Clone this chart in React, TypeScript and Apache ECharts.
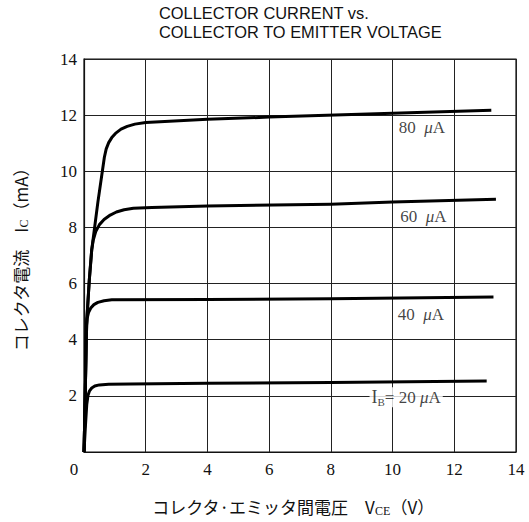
import React, { useEffect, useRef } from "react";
import * as echarts from "echarts";

const ib20: [number, number][] = [[0, 0], [0.05, 1.0], [0.09, 1.7], [0.13, 2.02], [0.18, 2.18], [0.25, 2.28], [0.35, 2.35], [0.5, 2.39], [0.8, 2.41], [1.5, 2.42], [4, 2.45], [8, 2.48], [13.05, 2.53]];
const ib40: [number, number][] = [[0, 0], [0.04, 2.0], [0.07, 4.0], [0.1, 4.75], [0.15, 4.98], [0.22, 5.13], [0.32, 5.25], [0.45, 5.33], [0.65, 5.39], [0.9, 5.42], [4, 5.43], [8, 5.46], [13.27, 5.52]];
const ib60: [number, number][] = [[0, 0], [0.04, 2.0], [0.08, 4.5], [0.17, 6.1], [0.25, 7.2], [0.3, 7.55], [0.38, 7.85], [0.5, 8.1], [0.65, 8.28], [0.85, 8.44], [1.05, 8.55], [1.3, 8.63], [1.6, 8.68], [2.2, 8.71], [4, 8.76], [8, 8.83], [10, 8.91], [13.35, 9.0]];
const ib80: [number, number][] = [[0, 0], [0.04, 2.0], [0.08, 4.5], [0.17, 6.1], [0.25, 7.2], [0.45, 8.9], [0.66, 10.5], [0.72, 10.8], [0.8, 11.02], [0.9, 11.2], [1.02, 11.35], [1.2, 11.5], [1.4, 11.6], [1.65, 11.68], [2, 11.74], [4, 11.85], [6, 11.93], [10, 12.07], [13.2, 12.17]];

const curves = [ib20, ib40, ib60, ib80];

const labelPos: [number, number][] = [[10.44, 1.95], [10.92, 4.9], [11.0, 8.4], [10.95, 11.56]];
const labelText = ["{i|I}{sub|B}{t|= 20 }{mu|μ}{t|A}", "{t|40  }{mu|μ}{t|A}", "{t|60  }{mu|μ}{t|A}", "{t|80  }{mu|μ}{t|A}"];

const xTicks = [0, 2, 4, 6, 8, 10, 12, 14];
const yTicks = [0, 2, 4, 6, 8, 10, 12, 14];

const serif = "'Liberation Serif', 'DejaVu Serif', serif";

export default function App() {
  const ref = useRef<HTMLDivElement>(null);
  useEffect(() => {
    if (!ref.current) return;
    const chart = echarts.init(ref.current, null, { renderer: "svg" });
    const richLabel = {
      t: { fontFamily: serif, fontSize: 17, color: "#111" },
      i: { fontFamily: serif, fontSize: 18, color: "#111" },
      sub: { fontFamily: serif, fontSize: 11, color: "#111", verticalAlign: "bottom", padding: [9, 0, 0, 0] },
      mu: { fontFamily: serif, fontSize: 17, fontStyle: "italic", color: "#111" },
    };
    chart.setOption({
      animation: false,
      backgroundColor: "#fff",
      title: {
        text: "COLLECTOR CURRENT vs.\nCOLLECTOR TO EMITTER VOLTAGE",
        left: 159,
        top: 3,
        padding: 0,
        textStyle: { fontFamily: "'Liberation Sans', sans-serif", fontSize: 16.4, fontWeight: "normal", lineHeight: 19, color: "#111" },
      },
      grid: { left: 84, right: 13, top: 59, bottom: 69, show: true, borderColor: "#111", borderWidth: 1.2 },
      xAxis: {
        type: "value",
        min: 0,
        max: 14,
        interval: 2,
        name: "コレクタ·エミッタ間電圧　V{sub|CE}（V）",
        nameLocation: "middle",
        nameGap: 44,
        nameTextStyle: {
          fontFamily: "'Noto Sans CJK JP', serif",
          fontSize: 17,
          color: "#111",
          padding: [0, 14, 0, 0],
          rich: { sub: { fontFamily: serif, fontSize: 12, color: "#111", padding: [9, 0, 0, 0] } },
        },
        axisLine: { show: true, lineStyle: { color: "#111", width: 1.2 } },
        axisTick: { show: false },
        axisLabel: {
          fontFamily: serif,
          fontSize: 17,
          color: "#111",
          margin: 9,
          formatter: (v: number) => (v === 0 ? "{z|0}" : xTicks.includes(v) ? String(v) : ""),
          rich: { z: { fontFamily: serif, fontSize: 17, color: "#111", padding: [0, 20, 0, 0] } },
        },
        splitLine: { show: true, lineStyle: { color: "#222", width: 1 } },
      },
      yAxis: {
        type: "value",
        min: 0,
        max: 14,
        interval: 2,
        name: "コレクタ電流　I{sub|C}（mA）",
        nameLocation: "middle",
        nameGap: 54,
        nameRotate: 90,
        nameTextStyle: {
          fontFamily: "'Noto Sans CJK JP', serif",
          fontSize: 17,
          color: "#111",
          rich: { sub: { fontFamily: serif, fontSize: 12, color: "#111", padding: [8, 0, 0, 0] } },
        },
        axisLine: { show: true, lineStyle: { color: "#111", width: 1.2 } },
        axisTick: { show: false },
        axisLabel: { fontFamily: serif, fontSize: 17, color: "#111", margin: 7, formatter: (v: number) => (v !== 0 && yTicks.includes(v) ? String(v) : "") },
        splitLine: { show: true, lineStyle: { color: "#222", width: 1 } },
      },
      series: [
        ...curves.map((c) => ({
          type: "line",
          data: c,
          showSymbol: false,
          smooth: false,
          lineStyle: { color: "#000", width: 3, join: "round" },
          z: 3,
        })),
        {
          type: "scatter",
          symbolSize: 0,
          z: 4,
          data: labelPos.map((p, i) => ({
            value: p,
            label: {
              show: true,
              position: "inside",
              formatter: labelText[i],
              backgroundColor: i === 0 ? "#fff" : "transparent",
              padding: [0, 2],
              rich: richLabel,
            },
          })),
        },
      ],
    });
    return () => chart.dispose();
  }, []);
  return <div ref={ref} style={{ position: "absolute", left: 0, top: 0, width: 529, height: 522 }} />;
}
